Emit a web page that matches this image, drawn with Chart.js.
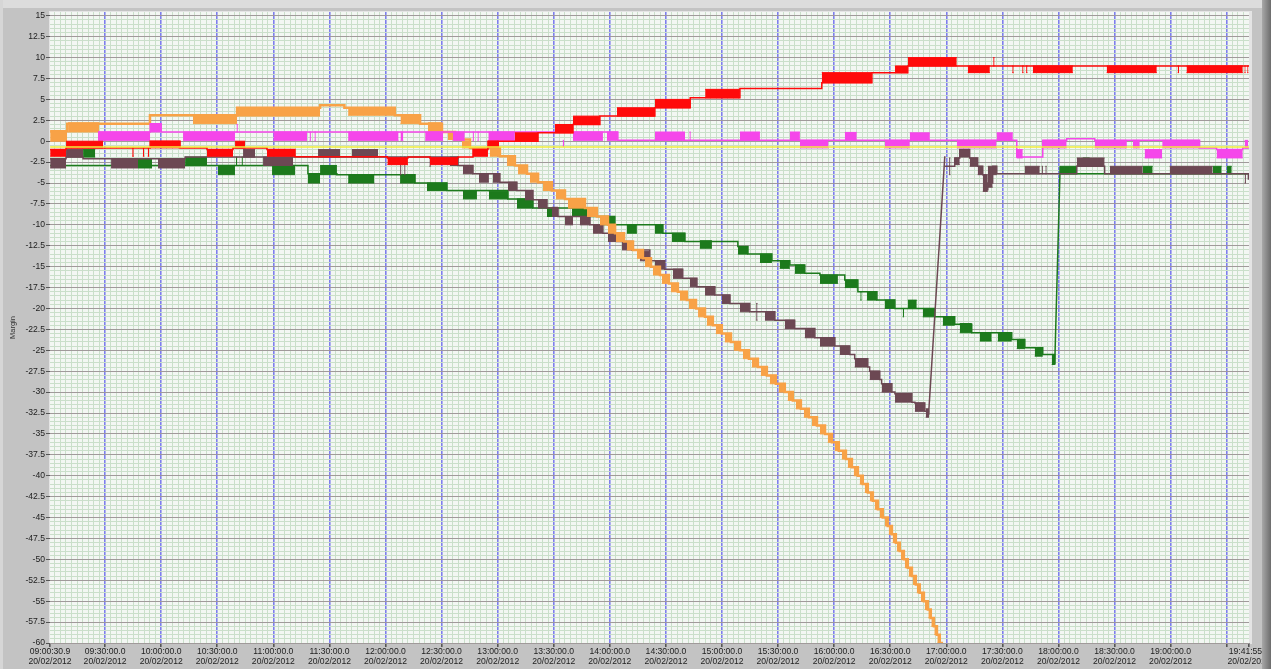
<!DOCTYPE html>
<html><head><meta charset="utf-8">
<style>
html,body{margin:0;padding:0;background:#c3c3c3;overflow:hidden;}
canvas{display:block;}
</style>
<script src="https://cdn.jsdelivr.net/npm/chart.js@4.4.1/dist/chart.umd.min.js"></script>
</head><body>
<canvas id="c" width="1271" height="669"></canvas>
<script>
// ---- axis definitions (x in minutes after 09:00:00, 20/02/2012) ----
const X_MIN = 0.515, X_MAX = 641.93;
const xTickValues = [0.515,30,60,90,120,150,180,210,240,270,300,330,360,390,420,450,480,510,540,570,600,630,641.93];
const xTickLabels = ['09:00:30.9','09:30:00.0','10:00:00.0','10:30:00.0','11:00:00.0','11:30:00.0','12:00:00.0','12:30:00.0','13:00:00.0','13:30:00.0','14:00:00.0','14:30:00.0','15:00:00.0','15:30:00.0','16:00:00.0','16:30:00.0','17:00:00.0','17:30:00.0','18:00:00.0','18:30:00.0','19:00:00.0',null,'19:41:55.8'];
const xDateLabel = '20/02/2012';
const yTickValues = [15,12.5,10,7.5,5,2.5,0,-2.5,-5,-7.5,-10,-12.5,-15,-17.5,-20,-22.5,-25,-27.5,-30,-32.5,-35,-37.5,-40,-42.5,-45,-47.5,-50,-52.5,-55,-57.5,-60];
const yTitle = 'Margin';

// ---- series: trace = [minute, value] (stepped), blocks = [t0, t1, low, high] ----
const orangeTrace = [[0.6,1.2],[9.7,2.1],[54,3.1],[100.6,4.0],[145,4.3],[158,4.0],[185,3.1],[198.5,2.1],[210.2,1.1],[217.2,0.2],[225.2,-0.8],[241.2,-1.8],[249.2,-2.9],[255.7,-3.9],[261.6,-4.9],[269,-5.9],[276,-6.9],[286.7,-8],[293.1,-9],[299,-10],[302.8,-11],[307.6,-12],[312.4,-13],[317.7,-14],[322.0,-15],[326.8,-16],[331.6,-17],[336.4,-18],[341.2,-19],[346.1,-20],[350.9,-21],[355.1,-22],[359.9,-23],[364.8,-24],[369.6,-25],[374.4,-26],[379.2,-27],[384.0,-28],[388.8,-29],[393.6,-30],[397.9,-31],[402.2,-32],[406.5,-33],[410.8,-34],[415.1,-35],[418.8,-36],[422.5,-37],[426.3,-38],[429.5,-39],[432.7,-40],[435.3,-41],[438.0,-42],[440.7,-43],[443.4,-44],[446.0,-45],[448.7,-46],[450.9,-47],[453.0,-48],[455.1,-49],[457.3,-50],[459.4,-51],[461.6,-52],[463.7,-53],[465.8,-54],[468.0,-55],[470.1,-56],[471.7,-57],[473.4,-58],[475.0,-59],[476.5,-60],[477.6,-62]];
const orangeBlocks = [[0.6,9.7,0,1.2],[10.2,26.8,1.1,2.2],[77,100.6,2.1,3.0],[100.6,145,3.0,4.0],[160,185,3.1,4.0],[188,198.5,2.1,3.1],[202.7,210.2,1.1,2.2],[213.4,217.2,0.2,1.1],[220.9,225.2,-0.8,0],[235.8,241.2,-1.8,-0.8],[245,249.2,-2.9,-1.8],[250.9,255.7,-3.9,-2.9],[257.3,261.6,-4.9,-3.9],[264.2,269,-5.9,-4.9],[271.2,276,-6.9,-5.9],[277.6,286.7,-8,-6.9],[287.8,293.1,-9,-8],[294.7,299,-10,-9],[299,302.8,-11,-10],[303.3,307.6,-12,-11],[309.1,312.4,-13,-12],[314.5,317.7,-14,-13],[318.8,322.0,-15,-14],[323.1,326.8,-16,-15],[327.9,331.6,-17,-16],[332.7,336.4,-18,-17],[337.5,341.2,-19,-18],[342.3,346.1,-20,-19],[347.2,350.9,-21,-20],[351.9,355.1,-22,-21],[356.7,359.9,-23,-22],[361.5,364.8,-24,-23],[366.4,369.6,-25,-24],[371.2,374.4,-26,-25],[376.0,379.2,-27,-26],[380.8,384.0,-28,-27],[385.6,388.8,-29,-28],[390.4,393.6,-30,-29],[395.2,397.9,-31,-30],[399.5,402.2,-32,-31],[403.8,406.5,-33,-32],[408.1,410.8,-34,-33],[412.4,415.1,-35,-34],[416.6,418.8,-36,-35],[420.4,422.5,-37,-36],[424.1,426.3,-38,-37],[427.3,429.5,-39,-38],[430.5,432.7,-40,-39],[433.7,435.3,-41,-40],[436.4,438.0,-42,-41],[439.1,440.7,-43,-42],[441.7,443.4,-44,-43],[444.4,446.0,-45,-44],[447.1,448.7,-46,-45],[449.2,450.9,-47,-46],[451.3,453.0,-48,-47],[453.5,455.1,-49,-48],[455.7,457.3,-50,-49],[457.8,459.4,-51,-50],[459.9,461.6,-52,-51],[462.1,463.7,-53,-52],[464.2,465.8,-54,-53],[466.4,468.0,-55,-54],[468.5,470.1,-56,-55],[470.4,471.7,-57,-56],[472.0,473.4,-58,-57],[473.6,475.0,-59,-58],[475.2,476.5,-60,-59]];

const redTrace = [[0.6,-1.0],[9.1,-0.8],[54.1,0],[70.1,-0.8],[84.5,-1.0],[98.4,-0.8],[116.6,-1.0],[131.6,-1.85],[181,-2.0],[192,-1.9],[203.8,-2.0],[218.8,-1.9],[226.8,-1.0],[234.8,0],[261.6,1.0],[280.3,2.0],[294.7,3.0],[324.1,4.0],[343,5.2],[369.6,6.3],[413.4,7.0],[440.2,8.2],[459.4,9.0],[642,9.0]];
const redBlocks = [[0.6,9.1,-1.8,-1.0],[9.1,28.9,-0.8,0],[44.5,45.3,-1.8,-0.8],[50.2,50.9,-1.8,-0.8],[52.8,53.5,-1.8,-0.8],[54.1,70.1,-0.8,0],[84.5,98.4,-1.8,-1.0],[99.5,104.9,-0.8,0],[116.6,131.6,-1.8,-1.0],[181,192,-2.8,-2.0],[203.8,218.8,-2.8,-2.0],[226.8,234.8,-1.8,-1.0],[234.8,240.7,-0.7,0],[249.2,261.6,0,1.0],[270.6,280.3,1.0,2.0],[280.3,294.7,2.0,3.0],[303.8,324.1,3.0,4.0],[324.1,343,4.0,5.0],[351,369.6,5.2,6.2],[413.4,440.2,7.0,8.2],[452.5,459.4,8.2,9.0],[459.4,485.6,9.0,10.0],[491.5,503.3,8.2,9.0],[505.1,505.8,9.0,10.0],[515.3,516.0,8.2,9.0],[520.6,521.3,8.2,9.0],[522.7,523.4,8.2,9.0],[526.3,547.7,8.2,9.0],[565.8,592.6,8.2,9.0],[603.8,604.5,8.2,9.0],[608.5,638.6,8.2,9.0],[639.5,640.1,8.2,9.0],[641.0,641.6,8.2,9.0]];

const magentaTrace = [[26.2,1.1],[54.1,2.1],[60,1.1],[304.3,0.1],[517.7,-1.9],[531.6,0.1],[544.4,0.3],[559.4,0.1],[615.5,-0.8],[624.6,-1.0],[638.6,-0.8],[642,-0.8]];
const magentaBlocks = [[26.2,54.1,0.1,1.1],[54.1,60,1.1,2.1],[71.7,99.5,0.1,1.1],[100.3,101,1.1,2.0],[120,138,0.1,1.1],[139.4,140.1,0.1,1.1],[142,142.7,0.1,1.1],[160,187,0.1,1.1],[188,189.5,0.1,1.1],[201.2,210.8,0.1,1.1],[216,222.4,0.1,1.1],[226.6,227.3,0.1,1.1],[229.2,229.9,0.1,1.1],[235,249.2,0.1,1.1],[274.8,275.5,-0.6,0.1],[280.3,296.3,0.1,1.1],[298.4,304.3,0.1,1.1],[324.1,340.2,0.1,1.1],[342.6,343.3,0.1,1.1],[369.6,380.3,0.1,1.1],[396.3,401.7,0.1,1.1],[401.7,417,-0.8,0.1],[425.7,432.1,0.1,1.05],[447.1,460.5,-0.8,0.1],[460.5,471.2,0.1,1.0],[485.6,506.9,-0.8,0.1],[506.9,515.6,0.1,1.0],[517.7,520.9,-2.0,-1.0],[531.6,544.4,-0.8,0.1],[559.4,576.6,-0.8,0.1],[579.8,583.5,-0.8,0.1],[586.1,595.5,-2.0,-1.0],[595.5,615.5,-0.8,0.1],[624.6,638.6,-2.0,-1.0],[639.6,641.5,-0.8,0.1]];

const yellowTrace = [[0.6,-0.7],[642,-0.7]];

const brownTrace = [[0.6,-2.1],[9.1,-1.9],[18.2,-2.1],[72.8,-1.9],[214.5,-1.9],[218.8,-2.9],[226.8,-3.9],[241.2,-4.9],[250.3,-5.9],[258.9,-7],[266.4,-8],[272.3,-9],[289.4,-10],[296.3,-11],[303.8,-12],[311.8,-13],[321.4,-14.3],[329.4,-15.3],[339,-16.4],[346.6,-17.4],[356.2,-18.4],[364.3,-19.4],[374.9,-20.4],[388.3,-21.4],[398.9,-22.4],[409.7,-23.5],[420.4,-24.5],[428.4,-25.5],[431,-26],[438,-27],[439,-27.5],[444.4,-28.5],[445.4,-29],[450.9,-30],[452.5,-30.2],[461.6,-31.2],[463.2,-31.3],[468.5,-32.3],[470.5,-32.7],[470.6,null],[479.2,-3.0],[484.5,-2.0],[487.2,-1.0],[492.5,-2.0],[496.8,-3.0],[499.5,-4.0],[501,-5.8],[502.2,-5.0],[504.8,-3.0],[507,-3.9],[549.8,-3.0],[564.7,-3.9],[639.6,-3.9],[641.6,-4.6]];
const brownJump = [[470.5,-32.7],[479.2,-1.8]];
const brownBlocks = [[0.6,9.1,-3.2,-2.1],[9.1,18.2,-1.9,-1.0],[33.2,47.6,-3.2,-2.1],[58.3,72.8,-3.2,-2.1],[103.8,110.2,-1.9,-1.0],[114.5,130.5,-2.9,-1.9],[143.9,155.7,-1.9,-1.0],[162,176,-1.9,-1.0],[187.8,188.5,-4.0,-1.9],[190,190.7,-4.0,-1.9],[203.5,204.2,-3.0,-1.9],[214.5,218.8,-2.9,-1.9],[221.4,226.8,-3.9,-2.9],[230,235.3,-4.9,-3.9],[237.4,241.2,-4.9,-3.9],[245.5,250.3,-5.9,-4.9],[254.6,258.9,-7,-5.9],[261.5,266.4,-8,-7],[269,272.3,-9,-7.9],[276,280.3,-10,-9],[284,289.4,-10,-9],[291,296.3,-11,-10],[299,303.8,-12,-11],[306.5,311.8,-13,-12],[316.1,321.4,-14.3,-13.2],[324.1,329.4,-15.3,-14.3],[333.8,339,-16.4,-15.3],[342.8,346.6,-17.4,-16.4],[350.9,356.2,-18.4,-17.4],[360,364.3,-19.4,-18.4],[369.6,374.9,-20.4,-19.4],[378.3,379,-21.4,-19.4],[383,388.3,-21.4,-20.4],[393.6,398.9,-22.4,-21.4],[404.3,409.7,-23.5,-22.4],[412.4,420.4,-24.5,-23.5],[423,428.4,-25.5,-24.5],[431,438,-27,-26],[439,444.4,-28.5,-27.5],[445.4,450.9,-30,-29],[452.5,461.6,-31.2,-30.2],[463.2,468.5,-32.3,-31.3],[469,470.8,-33,-32],[481.5,482.2,-4.0,-2.0],[484.5,487.2,-2.8,-2.0],[487.2,492.5,-1.9,-1.0],[492.5,496.8,-3.0,-2.0],[496.8,499.5,-4.0,-3.0],[499.5,502.2,-6.0,-4.0],[502.2,504.8,-5.5,-3.0],[504.8,507,-4.0,-3.0],[521.9,530,-3.9,-3.0],[531,531.7,-3.9,-3.0],[533,533.7,-3.9,-3.0],[549.8,564.7,-3.0,-2.0],[567.5,585.1,-3.9,-3.0],[599.5,622.5,-3.9,-3.0],[639.6,640.3,-5.0,-3.9]];

const greenTrace = [[0.6,-2.9],[138.5,-3.9],[154,-4.0],[195.8,-5.0],[212.9,-5.9],[245.5,-6.9],[258.9,-8.0],[287.8,-9.0],[302.7,-10.0],[328.4,-11.0],[340.2,-12.0],[368.5,-12.6],[373.9,-13.5],[386.7,-14.3],[396.3,-14.8],[404.3,-15.8],[412.4,-16],[425.7,-16.6],[432.7,-18],[442.9,-19],[452.5,-20],[473.8,-21],[484.5,-21.9],[493.6,-22.9],[515,-23.7],[522,-24.7],[531.6,-25.5],[538,-26.7],[538.1,null],[540.7,-3.9],[642,-3.9]];
const greenJump = [[538,-26.7],[540.7,-4.6],[540.9,-3.0]];
const greenBlocks = [[18.2,24.7,-1.9,-1.0],[47.6,55.1,-3.2,-2.1],[72.8,84.5,-2.9,-1.9],[90.4,99.5,-4.0,-2.9],[100,100.7,-2.9,-1.9],[103,103.7,-2.9,-1.9],[119.3,131.6,-4.0,-2.9],[138.5,145,-5.0,-3.9],[145,154,-4.0,-2.9],[160,174,-5.0,-4.0],[187.8,195.8,-5.0,-4.0],[202.2,212.9,-5.9,-5.0],[221.4,228.9,-6.9,-5.9],[235.3,245.5,-6.9,-6.0],[250.3,258.9,-8.0,-6.9],[266.4,271.7,-9.0,-8.0],[279.7,287.8,-9.0,-8.0],[294.7,302.7,-10.0,-9.0],[309.1,314.5,-11.0,-10.0],[324.1,328.4,-11.0,-10.0],[333.2,340.2,-12.0,-11.0],[348.2,354.6,-12.8,-11.9],[368.5,373.9,-13.5,-12.6],[380.3,386.7,-14.5,-13.5],[390.9,396.3,-15.2,-14.3],[399,404.3,-15.8,-14.8],[412.4,422,-17,-16],[425.7,432.7,-17.5,-16.6],[434,434.7,-19,-18],[437.5,442.9,-19,-18],[447.1,452.5,-20,-19],[456.7,457.4,-21,-20],[459.4,464.2,-20,-19],[467.4,473.8,-21,-20],[478.1,484.5,-22,-21],[487.2,493.6,-22.9,-21.8],[497.9,504.3,-23.9,-22.9],[507.5,515,-23.9,-22.9],[517.7,522,-24.8,-23.7],[527.3,531.6,-25.7,-24.7],[536.4,538,-26.7,-25.5],[540.7,549.8,-3.9,-3.0],[553,556.7,-3.0,-2.0],[585.1,590.4,-3.9,-3.0],[622.5,627.3,-3.9,-3.0],[630,632.7,-3.9,-3.0]];

// ---- build datasets ----
const datasets = [];
function pts(arr){ return arr.map(([x,y]) => ({x, y})); }
function addSeries(color, order, trace, blocks, jump, traceWidth) {
  if (blocks) {
    const sorted = blocks.slice().sort((a,b) => a[0]-b[0]);
    const up = [], lo = [];
    for (const [t0,t1,l,h] of sorted) {
      up.push({x:t0,y:h},{x:t1,y:h},{x:t1,y:null});
      lo.push({x:t0,y:l},{x:t1,y:l},{x:t1,y:null});
    }
    const ui = datasets.length;
    datasets.push({data: up, borderColor: color, borderWidth: 1, pointRadius: 0, fill: false, spanGaps: false, order});
    datasets.push({data: lo, borderColor: color, borderWidth: 1, pointRadius: 0, fill: ui, backgroundColor: color, spanGaps: false, order});
  }
  if (jump) datasets.push({data: pts(jump), borderColor: color, borderWidth: 1.5, pointRadius: 0, fill: false, order});
  if (trace) datasets.push({data: pts(trace), borderColor: color, borderWidth: traceWidth || 1.5, pointRadius: 0, stepped: true, fill: false, spanGaps: false, order});
}
addSeries('#1c7a1c', 6, greenTrace, greenBlocks, greenJump);
addSeries('#6c4853', 5, brownTrace, brownBlocks, brownJump);
addSeries('#f8a247', 4, orangeTrace, orangeBlocks, null, 2.5);
addSeries('#f546ea', 3, magentaTrace, magentaBlocks, null);
addSeries('#ff0a0a', 2, redTrace, redBlocks, null);
addSeries('#f2ee3a', 1, yellowTrace, null, null);

const isMajorX = v => xTickValues.some(t => Math.abs(t - v) < 1e-6);
const isMajorY = v => yTickValues.some(t => Math.abs(t - v) < 1e-6);

const framePlugin = {
  id: 'frame',
  beforeDraw(chart) {
    const {ctx, chartArea: a, width: W, height: H} = chart;
    ctx.save();
    ctx.fillStyle = '#c3c3c3'; ctx.fillRect(0, 0, W, H);
    ctx.fillStyle = '#dcdcdc'; ctx.fillRect(0, 0, W, 8);
    ctx.fillStyle = '#d6d6d6'; ctx.fillRect(0, 0, 3, H);
    ctx.fillStyle = '#e4e4e4'; ctx.fillRect(a.left - 1, a.top - 1, a.right - a.left + 4, a.bottom - a.top + 2);
    ctx.fillStyle = '#f3f7f3'; ctx.fillRect(a.left, a.top, a.right - a.left, a.bottom - a.top);
    ctx.restore();
  },
  afterDraw(chart) {
    const {ctx, width: W, height: H} = chart;
    const g = ctx.createLinearGradient(W - 9, 0, W, 0);
    g.addColorStop(0, '#a8a8a8'); g.addColorStop(1, '#6c6c6c');
    ctx.save(); ctx.fillStyle = g; ctx.fillRect(W - 9, 0, 9, H); ctx.restore();
  }
};

Chart.defaults.font.family = "'Liberation Sans', Arial, sans-serif";
Chart.defaults.font.size = 8.6;
Chart.defaults.color = '#222';

new Chart(document.getElementById('c'), {
  type: 'line',
  data: { datasets },
  plugins: [framePlugin],
  options: {
    responsive: false, animation: false, events: [],
    layout: { padding: { left: 0, top: 12, right: 22, bottom: 0 } },
    plugins: { legend: { display: false }, tooltip: { enabled: false } },
    scales: {
      x: {
        type: 'linear', min: X_MIN, max: X_MAX,
        border: { display: false },
        afterBuildTicks: (scale) => {
          const vals = xTickValues.slice();
          for (let m = 3; m < X_MAX; m += 3) if (m % 30 !== 0) vals.push(m);
          vals.sort((a,b) => a-b);
          scale.ticks = vals.map(v => ({value: v}));
        },
        afterFit: (scale) => { scale.height = 26; scale.paddingLeft = 0; scale.paddingRight = 0; },
        ticks: {
          autoSkip: false, maxRotation: 0, minRotation: 0, padding: 0,
          font: { size: 8.6, lineHeight: 1.17 },
          callback: (v) => {
            const i = xTickValues.findIndex(t => Math.abs(t - v) < 1e-6);
            return (i >= 0 && xTickLabels[i]) ? [xTickLabels[i], xDateLabel] : '';
          }
        },
        grid: {
          tickLength: 4,
          color: (c) => {
            const v = c.tick.value;
            if (Math.abs(v - X_MIN) < 1e-6 || Math.abs(v - X_MAX) < 1e-6) return 'rgba(0,0,0,0)';
            return isMajorX(v) ? 'rgba(105,105,235,0.85)' : '#cadfca';
          },
          lineWidth: (c) => isMajorX(c.tick.value) ? 1.6 : 1,
          tickColor: (c) => isMajorX(c.tick.value) ? '#555' : 'rgba(0,0,0,0)'
        }
      },
      y: {
        type: 'linear', min: -60, max: 15.45,
        border: { display: false },
        afterBuildTicks: (scale) => {
          const vals = [];
          for (let k = 0; k <= 150; k++) vals.push(Math.round((-60 + k * 0.5) * 10) / 10);
          scale.ticks = vals.map(v => ({value: v}));
        },
        afterFit: (scale) => { scale.width = 50; },
        title: { display: true, text: yTitle, font: { size: 7.5 }, padding: { top: 8.5, bottom: 0 }, color: '#333' },
        ticks: {
          autoSkip: false, padding: 1,
          callback: (v) => isMajorY(v) ? String(v) : ''
        },
        grid: {
          tickLength: 4,
          color: (c) => isMajorY(c.tick.value) ? '#a09a9a' : '#cadfca',
          tickColor: (c) => isMajorY(c.tick.value) ? '#555' : 'rgba(0,0,0,0)'
        }
      }
    }
  }
});
</script>
</body></html>
